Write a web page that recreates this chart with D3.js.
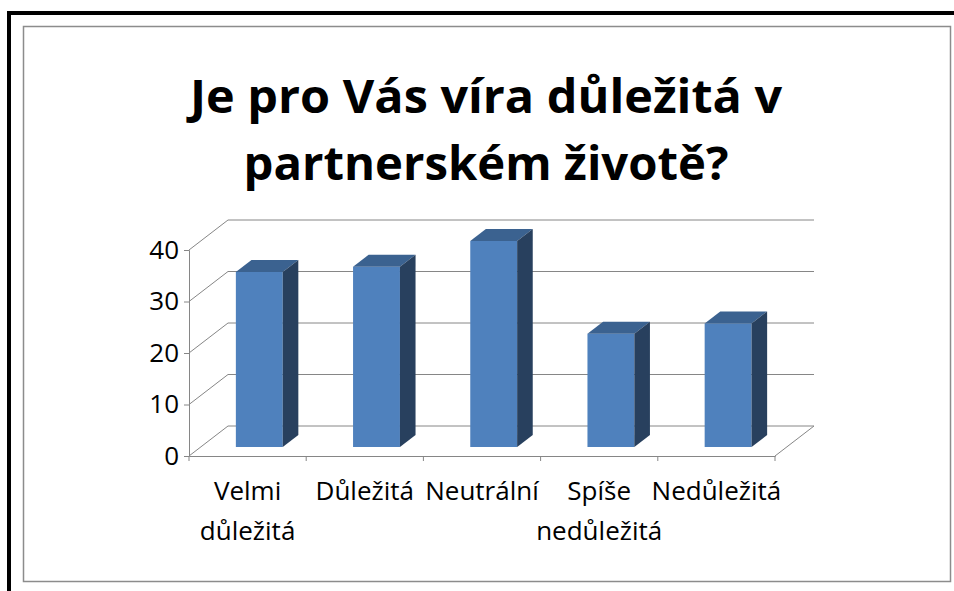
<!DOCTYPE html>
<html>
<head>
<meta charset="utf-8">
<script src="https://cdn.jsdelivr.net/npm/d3@7"></script>
<style>
  body { margin: 0; background: #fff; }
  svg { display: block; font-family: "Open Sans", "DejaVu Sans", sans-serif; }
</style>
</head>
<body>
<svg id="chart" width="954" height="591"></svg>
<script>
// data
const categories = ["Velmi důležitá", "Důležitá", "Neutrální", "Spíše nedůležitá", "Nedůležitá"];
const values = [34, 35, 40, 22, 24];
const yTicks = [0, 10, 20, 30, 40];
const titleLines = ["Je pro Vás víra důležitá v", "partnerském životě?"];
// label line breaks as shown on the axis
const labelLines = [["Velmi", "důležitá"], ["Důležitá"], ["Neutrální"], ["Spíše", "nedůležitá"], ["Nedůležitá"]];

const svg = d3.select("#chart");

// page frame (thick black top + left) and the chart's gray border
svg.append("rect").attr("x", 7).attr("y", 11).attr("width", 947).attr("height", 4).attr("fill", "#000");
svg.append("rect").attr("x", 7).attr("y", 11).attr("width", 4).attr("height", 580).attr("fill", "#000");
svg.append("rect")
  .attr("x", 23.5).attr("y", 26.5)
  .attr("width", 927).attr("height", 555)
  .attr("fill", "#fff")
  .attr("stroke", "#8c8c8c")
  .attr("stroke-width", 1.5);

// title
const titleWidths = [592, 485];
svg.append("g")
  .selectAll("text")
  .data(titleLines)
  .enter()
  .append("text")
  .attr("x", 486)
  .attr("y", (d, i) => 113 + i * 67)
  .attr("text-anchor", "middle")
  .attr("font-size", 46)
  .attr("font-weight", "bold")
  .attr("fill", "#000")
  .attr("textLength", (d, i) => titleWidths[i])
  .attr("lengthAdjust", "spacingAndGlyphs")
  .text((d) => d);

// scales (front plane)
const x = d3.scaleBand().domain(categories).range([189, 775]).paddingInner(0).paddingOuter(0);
const y = d3.scaleLinear().domain([0, 40]).range([456, 250]);

// depth offset of the 3D box
const depthX = 39, depthY = 30;
const grid = "#868686";

const g = svg.append("g");

// back wall gridlines
g.selectAll("line.back")
  .data(yTicks)
  .enter()
  .append("line")
  .attr("x1", x.range()[0] + depthX)
  .attr("x2", x.range()[1] + depthX)
  .attr("y1", (d) => y(d) - depthY)
  .attr("y2", (d) => y(d) - depthY)
  .attr("stroke", grid)
  .attr("stroke-width", 1);

// side wall diagonals
g.selectAll("line.side")
  .data(yTicks)
  .enter()
  .append("line")
  .attr("x1", x.range()[0])
  .attr("x2", x.range()[0] + depthX)
  .attr("y1", (d) => y(d))
  .attr("y2", (d) => y(d) - depthY)
  .attr("stroke", grid)
  .attr("stroke-width", 1);

// floor right edge
g.append("line")
  .attr("x1", x.range()[1]).attr("y1", y(0))
  .attr("x2", x.range()[1] + depthX).attr("y2", y(0) - depthY)
  .attr("stroke", grid);

// y axis
const yAxis = g.append("g")
  .attr("transform", "translate(" + x.range()[0] + ",0)")
  .call(d3.axisLeft(y).tickValues(yTicks).tickSize(5).tickPadding(5));
yAxis.select(".domain").attr("stroke", grid);
yAxis.selectAll(".tick line").attr("stroke", grid);
yAxis.selectAll(".tick text")
  .attr("font-size", 26)
  .attr("fill", "#000")
  .attr("font-family", "Open Sans, sans-serif");

// x axis
const xAxis = g.append("g")
  .attr("transform", "translate(0," + y(0) + ")")
  .call(d3.axisBottom(x).tickSizeOuter(0).tickSizeInner(0).tickFormat(""));
xAxis.select(".domain").attr("stroke", grid);
xAxis.selectAll(".tick").remove();
// category boundary ticks
const bounds = categories.map((c) => x(c)).concat([x.range()[1]]);
xAxis.selectAll("line.bt")
  .data(bounds)
  .enter()
  .append("line")
  .attr("x1", (d) => d).attr("x2", (d) => d)
  .attr("y1", 0).attr("y2", 5)
  .attr("stroke", grid);

// x labels
const labels = g.append("g");
categories.forEach(function (c, i) {
  const cx = x(c) + x.bandwidth() / 2;
  labelLines[i].forEach(function (line, j) {
    labels.append("text")
      .attr("x", cx)
      .attr("y", 500 + j * 40)
      .attr("text-anchor", "middle")
      .attr("font-size", 26)
      .attr("fill", "#000")
      .text(line);
  });
});

// bars: front face at depth 0.3, back at 0.7
const d0 = 0.3, d1 = 0.7;
const bw = x.bandwidth() * 0.4;
const bars = g.selectAll("g.bar")
  .data(values)
  .enter()
  .append("g")
  .classed("bar", true);

const fx = (i) => x(categories[i]) + (x.bandwidth() - bw) / 2 + d0 * depthX;
const dx = (d1 - d0) * depthX, dy = (d1 - d0) * depthY;

bars.append("rect")
  .attr("x", (d, i) => fx(i))
  .attr("y", (d) => y(d) - d0 * depthY)
  .attr("width", bw)
  .attr("height", (d) => y(0) - y(d))
  .attr("fill", "#4f81bd");

bars.append("path")
  .attr("d", function (d, i) {
    const x0 = fx(i), x1 = x0 + bw, yt = y(d) - d0 * depthY;
    return "M" + [x0, yt] + "L" + [x1, yt] + "L" + [x1 + dx, yt - dy] + "L" + [x0 + dx, yt - dy] + "Z";
  })
  .attr("fill", "#3b6290");

bars.append("path")
  .attr("d", function (d, i) {
    const x1 = fx(i) + bw, yt = y(d) - d0 * depthY, yb = y(0) - d0 * depthY;
    return "M" + [x1, yt] + "L" + [x1 + dx, yt - dy] + "L" + [x1 + dx, yb - dy] + "L" + [x1, yb] + "Z";
  })
  .attr("fill", "#28405e");
</script>
</body>
</html>
